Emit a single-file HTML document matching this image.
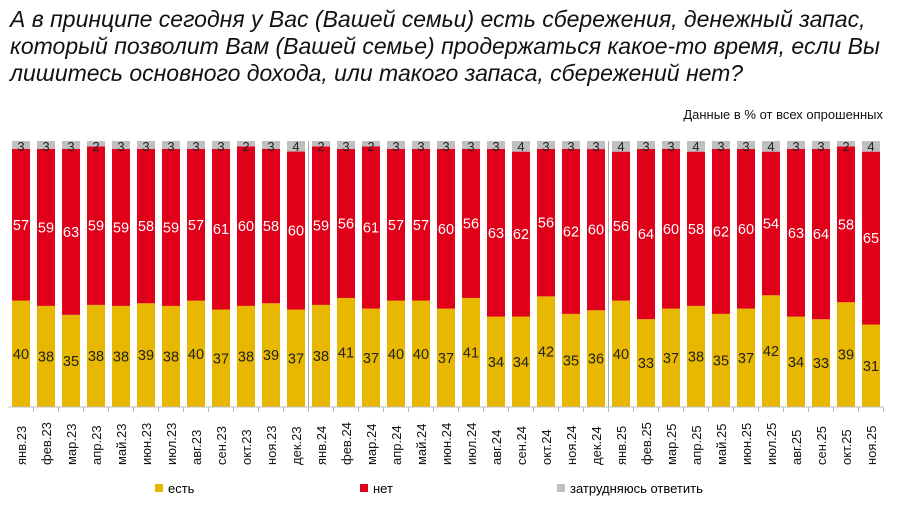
<!DOCTYPE html>
<html><head><meta charset="utf-8"><style>
body{margin:0;background:#fff;width:897px;height:516px;overflow:hidden;font-family:"Liberation Sans",sans-serif}
#title{position:absolute;left:10px;top:6px;font-size:23px;font-style:italic;line-height:27px;color:#111;width:890px;white-space:nowrap}
#sub{position:absolute;right:14px;top:107px;font-size:13px;color:#111}
</style></head><body>
<div id="title">А в принципе сегодня у Вас (Вашей семьи) есть сбережения, денежный запас,<br>который позволит Вам (Вашей семье) продержаться какое-то время, если Вы<br>лишитесь основного дохода, или такого запаса, сбережений нет?</div>
<div id="sub">Данные в % от всех опрошенных</div>
<svg id="chart" width="897" height="516" style="position:absolute;left:0;top:0"></svg>
<script>
const categories=["янв.23","фев.23","мар.23","апр.23","май.23","июн.23","июл.23","авг.23","сен.23","окт.23","ноя.23","дек.23","янв.24","фев.24","мар.24","апр.24","май.24","июн.24","июл.24","авг.24","сен.24","окт.24","ноя.24","дек.24","янв.25","фев.25","мар.25","апр.25","май.25","июн.25","июл.25","авг.25","сен.25","окт.25","ноя.25"];
const yes=[40,38,35,38,38,39,38,40,37,38,39,37,38,41,37,40,40,37,41,34,34,42,35,36,40,33,37,38,35,37,42,34,33,39,31];
const no=[57,59,63,59,59,58,59,57,61,60,58,60,59,56,61,57,57,60,56,63,62,56,62,60,56,64,60,58,62,60,54,63,64,58,65];
const unsure=[3,3,3,2,3,3,3,3,3,2,3,4,2,3,2,3,3,3,3,3,4,3,3,3,4,3,3,4,3,3,4,3,3,2,4];
const svg=document.getElementById('chart');
const NS='http://www.w3.org/2000/svg';
const x0=21,step=25,bw=18,base=407,full=266;
const xc=i=>x0+i*step;
function mk(t,a){const e=document.createElementNS(NS,t);for(const k in a)e.setAttribute(k,a[k]);svg.appendChild(e);return e;}
categories.forEach((c,i)=>{
  const cx=xc(i);
  const tot=yes[i]+no[i]+unsure[i];
  const yv=v=>base-v/tot*full;
  const segs=[[yes[i],'#e8b800','#222','yes'],[no[i],'#e0001a','#fff','no'],[unsure[i],'#c0c0c0','#222','unsure']];
  let acc=0;
  segs.forEach(s=>{
    const y1=yv(acc+s[0]),y2=yv(acc);
    const r=mk('rect',{x:cx-bw/2,y:y1,width:bw,height:y2-y1,fill:s[1]});
    
    
    const ty=s[3]==='unsure'?y1+10:(y1+y2)/2+5;
    const t=mk('text',{x:cx,y:ty,'text-anchor':'middle','font-size':s[3]==='unsure'?13:14.5,fill:s[2]});
    t.textContent=s[0];
    
    
    acc+=s[0];
  });
  const l=mk('text',{transform:`translate(${cx+5},465) rotate(-90)`,'font-size':13,fill:'#111'});
  l.textContent=c;
  
  
  mk('line',{x1:cx+step/2,x2:cx+step/2,y1:base,y2:base+5,stroke:'#bbb'});
});
[12,24].forEach(i=>{mk('line',{x1:xc(i)-step/2,x2:xc(i)-step/2,y1:141,y2:base,stroke:'#aaa'});});
const ax=mk('line',{x1:xc(0)-step/2,x2:xc(34)+step/2,y1:base,y2:base,stroke:'#bbb'});


const leg=[['есть','#e8b800',155],['нет','#e0001a',360],['затрудняюсь ответить','#c0c0c0',557]];
leg.forEach(L=>{
  const g=document.createElementNS(NS,'g');svg.appendChild(g);
  
  
  const r=document.createElementNS(NS,'rect');r.setAttribute('x',L[2]);r.setAttribute('y',484);r.setAttribute('width',8);r.setAttribute('height',8);r.setAttribute('fill',L[1]);g.appendChild(r);
  const t=document.createElementNS(NS,'text');t.setAttribute('x',L[2]+13);t.setAttribute('y',493);t.setAttribute('font-size',13);t.textContent=L[0];g.appendChild(t);
});
</script>
</body></html>
